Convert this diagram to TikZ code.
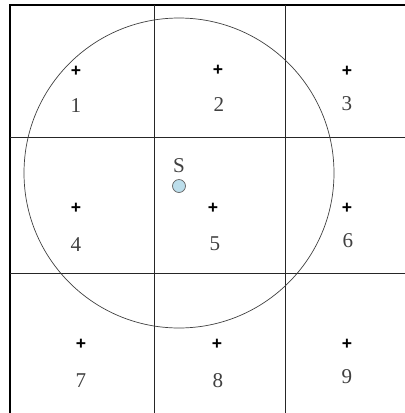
\documentclass[tikz,border=0pt]{standalone}
\usepackage{fontspec}
\setmainfont{Liberation Serif}
\newfontfamily\plusfont{Liberation Sans}
\begin{document}
\begin{tikzpicture}[x=0.02cm,y=-0.02cm,
		plusmark/.style={inner sep=0pt,font=\plusfont\bfseries},
		cellnum/.style={inner sep=0pt,font=\large,text=black!75}]
			\useasboundingbox (0,0) rectangle (405,413);
			\draw [line width=0.9pt] (10,413) -- (10,5) -- (405,5);
			\draw [black!85,line width=0.5pt] (154,5) -- (154,413);
			\draw [black!85,line width=0.5pt] (285,5) -- (285,413);
			\draw [black!85,line width=0.5pt] (10,137) -- (405,137);
			\draw [black!85,line width=0.5pt] (10,273) -- (405,273);
			\node [plusmark] (p1) at (76,71) {+};
			\node [plusmark] (p2) at (218,70) {+};
			\node [plusmark] (p3) at (347,71) {+};
			\node [plusmark] (p4) at (76,208) {+};
			\node [plusmark] (p5) at (213,208) {+};
			\node [plusmark] (p6) at (347,208) {+};
			\node [plusmark] (p7) at (81,344) {+};
			\node [plusmark] (p8) at (217,344) {+};
			\node [plusmark] (p9) at (347,344) {+};
			\node [cellnum] (c1) at (76,106) {1};
			\node [cellnum] (c2) at (219,105) {2};
			\node [cellnum] (c3) at (347,104) {3};
			\node [cellnum] (c4) at (76,245) {4};
			\node [cellnum] (c5) at (215,244) {5};
			\node [cellnum] (c6) at (348,241) {6};
			\node [cellnum] (c7) at (81,381) {7};
			\node [cellnum] (c8) at (218,381) {8};
			\node [cellnum] (c9) at (347,377) {9};
			\node [circle,draw=black!75,line width=0.4pt,minimum size=310*0.02cm,inner sep=0pt] (range) at (179,173) {};
			\node [circle,draw=black!60,fill=cyan!25!white!85!gray,minimum size=0.26cm,inner sep=0pt,line width=0.4pt] (S) at (179,186) {};
			\node [cellnum] (slabel) at (179,166) {S};
		\end{tikzpicture}
\end{document}
